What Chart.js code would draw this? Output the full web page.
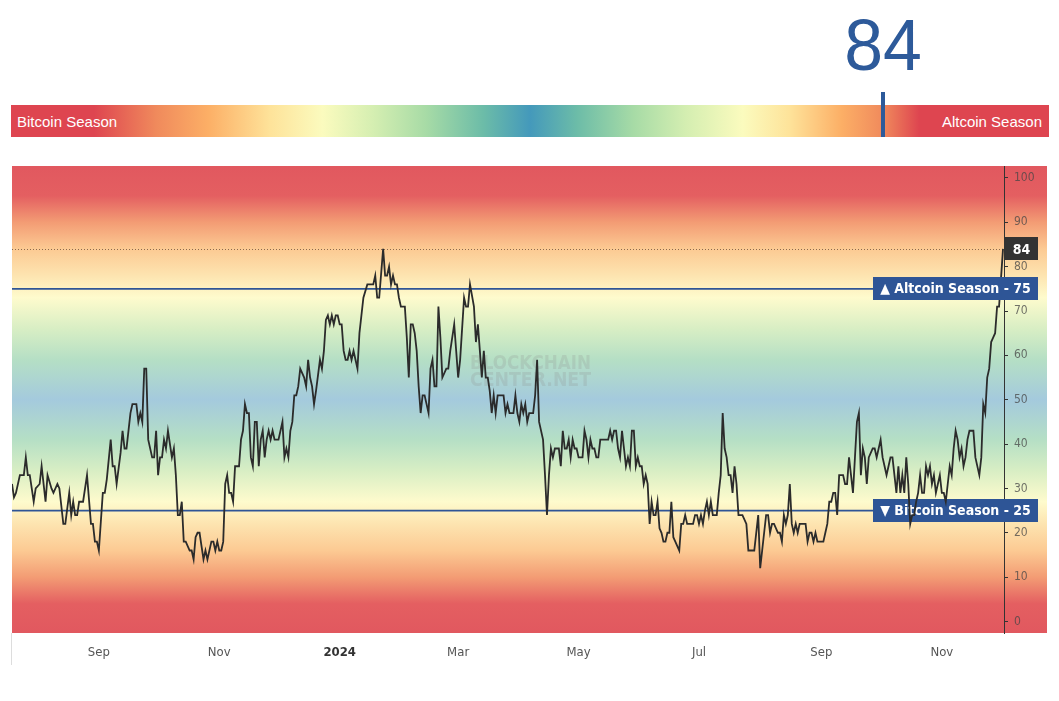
<!DOCTYPE html>
<html>
<head>
<meta charset="utf-8">
<script src="https://cdn.jsdelivr.net/npm/chart.js@4.4.0/dist/chart.umd.min.js"></script>
<style>
  body { margin:0; background:#fff; width:1059px; height:701px; overflow:hidden; position:relative; font-family:'Liberation Sans', Arial, sans-serif; }
  #value { position:absolute; top:9px; width:200px; text-align:center; font-family:'Liberation Sans', Arial, sans-serif; font-size:72px; line-height:72px; color:#2d5a9a; transform:scaleX(0.97); }
  #bar { position:absolute; left:11px; top:105px; width:1038px; height:32px;
    background:linear-gradient(to right, #de4550 0%, #de4550 8%, #f08a5c 14%, #fcaf66 19%, #fee39a 25%, #fbfbbe 30%, #d4eeb1 35%, #a7dba6 40%, #6cbca8 45.5%, #4499bb 50%, #6cbca8 54.5%, #a7dba6 60%, #d4eeb1 65%, #fbfbbe 70.5%, #fee39a 75%, #fcaf66 80%, #f08a5c 84%, #de4550 87.5%, #de4550 100%); }
  #bar span { position:absolute; top:1px; line-height:32px; color:#fff; font-size:15px; }
  #marker { position:absolute; top:92px; width:4px; height:45px; background:#2d5a9a; }
  #chartBox { position:absolute; left:0; top:150px; width:1059px; height:530px; }
</style>
</head>
<body>
<div id="value"></div>
<div id="bar"><span style="left:6px">Bitcoin Season</span><span style="right:7px">Altcoin Season</span></div>
<div id="marker"></div>
<div id="chartBox"><canvas id="chart"></canvas></div>
<script>
// days counted from 2023-07-19
var startDay = Date.UTC(2023, 6, 19);

var dayNumbers = [
  0,1,2,4,6,7,8,9,11,12,14,15,17,18,20,21,23,24,26,27,29,30,31,32,33,34,36,38,40,41,42,43,44,46,47,48,50,51,52,53,55,56,57,58,60,61,63,64,65,66,67,68,69,71,72,73,74,75,76,77,78,79,81,82,83,84,85,
  86,87,88,90,91,92,93,94,95,96,97,98,99,101,102,103,104,105,106,107,108,109,110,111,112,113,115,116,117,118,119,120,121,122,123,124,125,126,127,128,129,130,131,132,133,135,137,138,139,140,141,142,143,144,145,146,147,148,149,150,151,152,153,154,156,157,158,159,160,161,162,163,164,165,166,167,168,
  169,170,171,172,173,174,175,176,177,178,180,181,183,184,185,186,188,189,190,191,192,193,194,195,196,197,199,200,201,202,203,204,205,206,207,208,209,210,211,212,213,214,215,216,217,218,220,221,222,224,225,226,227,229,230,231,232,234,235,236,237,238,239,240,241,242,243,244,245,246,247,249,250,251,252,
  253,254,255,256,257,258,259,260,261,262,264,265,266,267,269,270,271,272,273,274,275,277,278,279,280,281,282,283,284,285,286,287,289,290,291,292,293,294,295,296,297,298,300,302,303,304,305,306,307,308,309,310,311,312,313,314,315,316,317,318,319,320,321,322,323,324,325,326,327,328,329,330,331,332,333,334,
  335,336,338,339,340,341,342,343,345,346,347,348,349,350,351,352,353,354,355,357,358,359,360,361,362,363,364,365,366,367,368,370,372,373,375,376,378,379,380,381,382,383,384,385,386,388,389,390,391,392,393,394,395,396,397,398,399,400,402,403,404,405,406,407,408,409,411,412,413,414,415,416,417,418,419,
  421,422,423,424,425,426,427,428,429,430,431,432,433,434,436,437,438,440,441,442,443,444,445,446,447,448,449,450,451,452,453,454,455,456,457,458,459,460,461,462,463,464,465,466,467,468,469,470,471,472,473,474,475,476,477,478,479,480,481,482,483,484,485,486,487,488,490,491,492,493,494,495,496,497,498,499,500,502
];

var indexValues = [
  31,28,29,33,33,37,33,33,27,30,31,35,27,33,30,29,31,30,22,22,29,24,27,24,24,27,27,33,22,22,18,18,16,29,29,32,41,35,35,31,38,43,39,39,47,49,49,45,47,45,57,57,41,37,37,43,33,37,37,41,39,43,37,39,33,24,24,
  27,18,18,16,16,14,19,20,20,17,14,16,14,18,18,16,18,16,16,18,31,33,29,29,27,35,35,41,43,49,47,47,37,35,45,45,35,41,43,37,41,43,41,43,41,41,45,37,39,37,43,45,51,51,53,57,56,55,53,59,55,53,49,52,59,57,61,68,69,67,69,67,69,69,67,67,61,
  59,59,61,59,61,59,57,65,69,73,76,76,76,78,73,73,84,78,78,80,76,78,76,76,73,71,71,64,55,67,67,65,61,53,47,51,51,49,47,57,59,53,53,71,64,55,57,57,61,67,61,55,59,73,71,71,76,71,63,67,61,55,61,55,55,52,47,51,47,51,51,51,47,49,47,
  47,47,51,47,45,49,47,49,45,47,47,51,59,45,41,33,24,33,39,37,39,39,35,43,39,39,41,37,41,39,39,37,37,43,41,37,41,39,39,37,37,41,41,41,43,41,43,43,39,37,43,39,35,37,35,43,43,35,37,35,35,31,33,31,22,27,24,24,27,21,20,18,18,20,20,27,
  19,18,16,22,22,24,22,22,22,24,24,22,24,22,25,27,24,27,24,24,29,33,47,39,37,33,33,29,35,31,24,24,22,16,16,16,24,12,16,20,24,24,20,22,22,20,20,18,24,22,24,31,22,20,22,20,22,22,22,18,20,20,18,20,18,18,18,20,22,27,27,29,29,24,33,
  33,31,31,37,33,29,37,45,47,33,39,37,31,37,39,39,37,41,37,35,33,35,37,37,33,29,35,29,33,29,37,31,22,24,24,27,29,33,29,29,35,33,35,31,33,29,31,33,29,29,27,31,35,33,39,43,41,37,39,35,37,41,43,43,43,37,33,37,49,47,55,57,63,64,65,71,71,84
];

var yTickValues = [0, 10, 20, 30, 40, 50, 60, 70, 80, 90, 100];
var monthNames = ['Jan','Feb','Mar','Apr','May','Jun','Jul','Aug','Sep','Oct','Nov','Dec'];
var tickMonths = [[2023,8],[2023,10],[2024,0],[2024,2],[2024,4],[2024,6],[2024,8],[2024,10]];
var altcoinLevel = 75, bitcoinLevel = 25;
var currentValue = indexValues[indexValues.length - 1];

var axisFont = "'DejaVu Sans Condensed', 'DejaVu Sans', sans-serif";
var tagFont = "bold 14px 'DejaVu Sans Condensed', 'DejaVu Sans', sans-serif";

function dayOf(y, m){ return Math.round((Date.UTC(y, m, 1) - startDay) / 86400000); }
function dateOf(day){ return new Date(startDay + day * 86400000); }
function isYearTick(day){ return dateOf(day).getUTCMonth() === 0; }

// gauge on top
var barLeft = 11, barWidth = 1038;
var gaugeX = barLeft + barWidth * currentValue / 100;
document.getElementById('value').textContent = currentValue;
document.getElementById('value').style.left = (gaugeX - 100) + 'px';
document.getElementById('marker').style.left = (gaugeX - 2) + 'px';

var points = dayNumbers.map(function(d, i){ return {x: d, y: indexValues[i]}; });

// colours of the background, by index value (mirrored around 50)
var bgStops = [[102.7,'#e1585f'],[96,'#e45f61'],[90,'#f39c74'],[84,'#fcca93'],[78,'#fde4b0'],[73,'#fefbcd'],[66,'#d8eec4'],[59,'#b5dfc5'],[50,'#a4cadd']];

var backgroundPlugin = {
  id: 'seasonBackground',
  beforeDraw: function(chart){
    var c = chart.ctx, a = chart.chartArea, y = chart.scales.y;
    var g = c.createLinearGradient(0, a.top, 0, a.bottom);
    var span = a.bottom - a.top;
    var add = function(v, col){
      var t = (y.getPixelForValue(v) - a.top) / span;
      g.addColorStop(Math.min(1, Math.max(0, t)), col);
    };
    bgStops.forEach(function(s){ add(s[0], s[1]); });
    bgStops.slice(0, -1).reverse().forEach(function(s){ add(100 - s[0], s[1]); });
    c.save();
    c.fillStyle = g;
    c.fillRect(a.left, a.top, a.right - a.left + 43, span);
    c.restore();
  }
};

function drawTag(c, text, x1, x2, yc, h, fill, font){
  c.fillStyle = fill;
  c.fillRect(x1, Math.round(yc - h / 2), x2 - x1, h);
  c.fillStyle = '#fff';
  c.font = font;
  c.textAlign = 'center';
  c.textBaseline = 'middle';
  c.fillText(text, (x1 + x2) / 2, yc + 1);
}

var levelsPlugin = {
  id: 'levels',
  beforeDatasetsDraw: function(chart){
    var c = chart.ctx, a = chart.chartArea, y = chart.scales.y;
    var tagLeft = a.right - 131, tagRight = a.right + 34;
    c.save();
    // watermark
    c.fillStyle = 'rgba(140,140,140,0.22)';
    c.font = "bold 20px 'DejaVu Sans', sans-serif";
    c.textAlign = 'left';
    c.textBaseline = 'alphabetic';
    c.fillText('BLOCKCHAIN', 470, 219, 121);
    c.fillText('CENTER.NET', 470, 236, 121);
    // current value dotted line
    var yc = Math.round(y.getPixelForValue(currentValue)) + 0.5;
    c.strokeStyle = '#8c6a4f';
    c.lineWidth = 1;
    c.setLineDash([1, 2]);
    c.beginPath(); c.moveTo(a.left, yc); c.lineTo(a.right, yc); c.stroke();
    c.setLineDash([]);
    // season lines
    c.strokeStyle = '#2e5596';
    c.lineWidth = 1.6;
    [altcoinLevel, bitcoinLevel].forEach(function(v){
      var p = y.getPixelForValue(v);
      c.beginPath(); c.moveTo(a.left, p); c.lineTo(tagLeft, p); c.stroke();
    });
    drawTag(c, '\u25BC Bitcoin Season - ' + bitcoinLevel, tagLeft, tagRight, y.getPixelForValue(bitcoinLevel), 23, '#2e5596', tagFont);
    c.restore();
  },
  afterDatasetsDraw: function(chart){
    var c = chart.ctx, a = chart.chartArea, y = chart.scales.y;
    c.save();
    drawTag(c, '\u25B2 Altcoin Season - ' + altcoinLevel, a.right - 131, a.right + 34, y.getPixelForValue(altcoinLevel), 23, '#2e5596', tagFont);
    drawTag(c, String(currentValue), a.right + 1, a.right + 34, y.getPixelForValue(currentValue), 23, '#333333', tagFont);
    // left edge line under the plot
    c.strokeStyle = '#dddddd';
    c.lineWidth = 1;
    c.beginPath(); c.moveTo(a.left - 0.5, a.bottom); c.lineTo(a.left - 0.5, a.bottom + 32); c.stroke();
    c.restore();
  }
};

new Chart(document.getElementById('chart'), {
  type: 'line',
  data: {
    datasets: [{
      data: points,
      borderColor: '#2b2b2b',
      borderWidth: 1.8,
      pointRadius: 0,
      tension: 0,
      fill: false
    }]
  },
  options: {
    responsive: true,
    maintainAspectRatio: false,
    animation: false,
    devicePixelRatio: 1,
    layout: { padding: { left: 12, top: 16, right: 12, bottom: 0 } },
    plugins: { legend: { display: false }, tooltip: { enabled: false } },
    scales: {
      x: {
        type: 'linear',
        min: 0,
        max: 502.5,
        grid: { display: false, drawTicks: false },
        border: { display: false },
        afterBuildTicks: function(axis){
          axis.ticks = tickMonths.map(function(m){ return {value: dayOf(m[0], m[1])}; });
        },
        afterFit: function(axis){ axis.height = 47; },
        ticks: {
          maxRotation: 0,
          autoSkip: false,
          padding: 12,
          color: function(ctx){ return ctx.tick && isYearTick(ctx.tick.value) ? '#333' : '#555'; },
          font: function(ctx){
            var bold = ctx.tick && isYearTick(ctx.tick.value);
            return { family: axisFont, size: 13, weight: bold ? 'bold' : 'normal' };
          },
          callback: function(v){
            var d = dateOf(v);
            return d.getUTCMonth() === 0 ? String(d.getUTCFullYear()) : monthNames[d.getUTCMonth()];
          }
        }
      },
      y: {
        position: 'right',
        min: -2.6,
        max: 102.7,
        afterBuildTicks: function(axis){
          axis.ticks = yTickValues.map(function(v){ return {value: v}; });
        },
        afterFit: function(axis){ axis.width = 43; },
        grid: { drawOnChartArea: false, drawTicks: true, tickLength: 4, color: '#333' },
        border: { display: true, color: '#333', width: 1 },
        ticks: { padding: 6, color: 'rgba(70,70,70,0.75)', font: { family: axisFont, size: 12 } }
      }
    }
  },
  plugins: [backgroundPlugin, levelsPlugin]
});
</script>
</body>
</html>
